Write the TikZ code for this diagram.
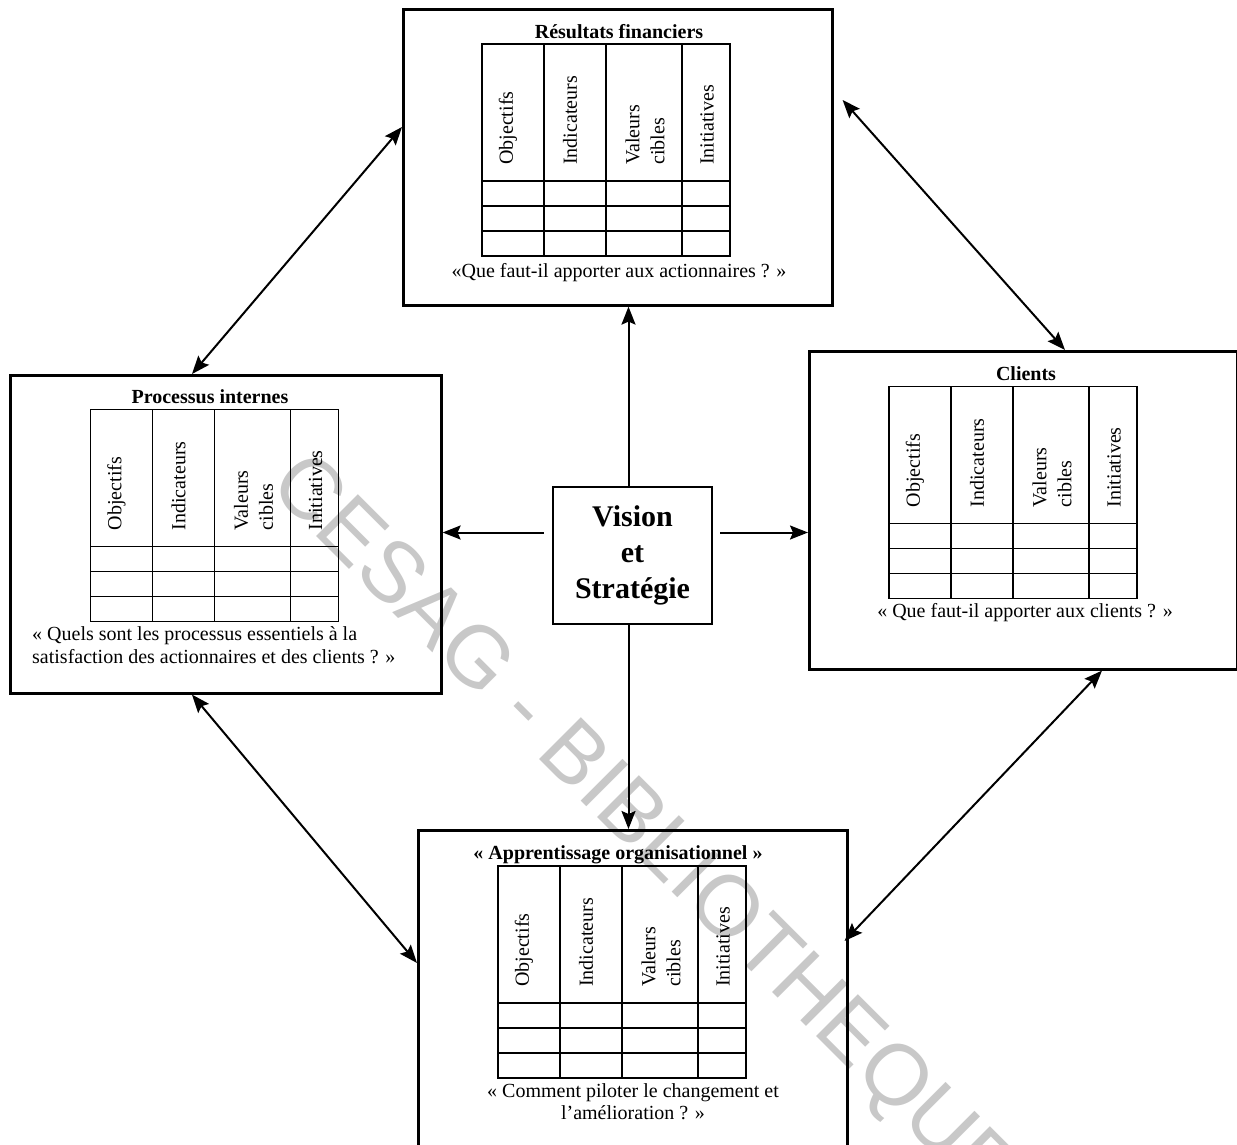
\documentclass[tikz,border=0pt]{standalone}
\usepackage{fontspec}
\setmainfont{Liberation Serif}
\newfontfamily\wmfont{Liberation Sans}
\usetikzlibrary{arrows.meta}

\definecolor{wmgray}{RGB}{200,200,200}

\tikzset{
  panel/.style={draw, line width=2.6pt, inner sep=0pt, minimum width=429pt, anchor=north west},
  core/.style={draw, line width=2.6pt, inner sep=0pt, minimum width=159pt, minimum height=137pt,
    align=center, font=\fontsize{30}{36}\selectfont\bfseries},
  gridline/.style={line width=1.8pt},
  coltext/.style={rotate=90, anchor=west, inner sep=0pt, align=left, font=\fontsize{20}{25}\selectfont},
  ptitle/.style={anchor=base, inner sep=0pt, font=\fontsize{20}{25}\selectfont\bfseries},
  pquest/.style={anchor=base, inner sep=0pt, align=center, font=\fontsize{20}{22}\selectfont},
  tip/.tip={Stealth[length=18pt,width=14pt,inset=3pt]},
  link/.style={line width=2pt, -tip},
  duallink/.style={line width=2pt, tip-tip},
  wm/.style={anchor=base, rotate=-45, inner sep=0pt, text=wmgray, font=\fontsize{86}{90}\wmfont},
}

% Scorecard grid: header row with rotated column titles and three empty rows
\newcommand\bscgrid[3]{%
  \begin{scope}[shift={(#2,#3)}]
    \draw[gridline] (0,0) rectangle (248,212);
    \draw[gridline] (0,137) -- (248,137) (0,162) -- (248,162) (0,187) -- (248,187);
    \draw[gridline] (62,0) -- (62,212) (124,0) -- (124,212) (200,0) -- (200,212);
    \node[coltext] (#1-obj) at (26,121) {Objectifs};
    \node[coltext] (#1-ind) at (88,121) {Indicateurs};
    \node[coltext] (#1-val) at (163,121) {Valeurs\\cibles};
    \node[coltext] (#1-ini) at (225,121) {Initiatives};
  \end{scope}}

\begin{document}
\begin{tikzpicture}[x=1pt, y=-1pt]
  \useasboundingbox (0,0) rectangle (1237,1145);

  % library stamp behind everything
  \node[wm] (mark) at (626,846) {CESAG - BIBLIOTHEQUE};

  % the four perspectives
  \node[panel, minimum height=296pt] (fin) at (402,8) {};
  \node[panel, minimum width=431pt, minimum height=318pt] (proc) at (9,374) {};
  \node[panel, minimum width=428pt, minimum height=318pt] (cli) at (808,350) {};
  \node[panel, minimum height=340pt] (app) at (417,829) {};

  % centre
  \node[core] (vis) at (632.5,555.5) {Vision\\et\\Stratégie};

  % financial results
  \node[ptitle] (fin-title) at (619,39) {Résultats financiers};
  \bscgrid{fin}{482}{44}
  \node[pquest] (fin-q) at (619,277) {«Que faut-il apporter aux actionnaires ? »};

  % internal processes
  \node[ptitle] (proc-title) at (210,403) {Processus internes};
  \bscgrid{proc}{90.5}{409.5}
  \node[pquest, anchor=base west, align=left, font=\fontsize{20}{23}\selectfont] (proc-q) at (32,663)
    {« Quels sont les processus essentiels à la\\satisfaction des actionnaires et des clients ? »};

  % customers
  \node[ptitle] (cli-title) at (1026,380) {Clients};
  \bscgrid{cli}{889}{386.5}
  \node[pquest] (cli-q) at (1025,617) {« Que faut-il apporter aux clients ? »};

  % organisational learning
  \node[ptitle] (app-title) at (618,859) {« Apprentissage organisationnel »};
  \bscgrid{app}{498}{866}
  \node[pquest] (app-q) at (633,1119) {« Comment piloter le changement et\\l’amélioration ? »};

  % links from the centre
  \draw[link] ([xshift=-4pt]vis.north) -- ([xshift=-4pt]vis.north |- fin.south);
  \draw[link] ([xshift=-4pt]vis.south) -- ([xshift=-4pt]vis.south |- app.north);
  \draw[link] ([shift={(-8pt,23pt)}]vis.west) coordinate (vw) -- (vw -| proc.east);
  \draw[link] ([shift={(7pt,23pt)}]vis.east) coordinate (ve) -- (ve -| cli.west);

  % links between perspectives
  \draw[duallink] ([yshift=-119pt]fin.north west) -- ([xshift=183pt]proc.north west);
  \draw[duallink] ([shift={(9pt,-92pt)}]fin.north east) -- ([xshift=257pt]cli.north west);
  \draw[duallink] ([xshift=183pt]proc.south west) -- ([yshift=-134pt]app.north west);
  \draw[duallink] ([xshift=294pt]cli.south west) -- ([shift={(-4pt,-112pt)}]app.north east);
\end{tikzpicture}
\end{document}
